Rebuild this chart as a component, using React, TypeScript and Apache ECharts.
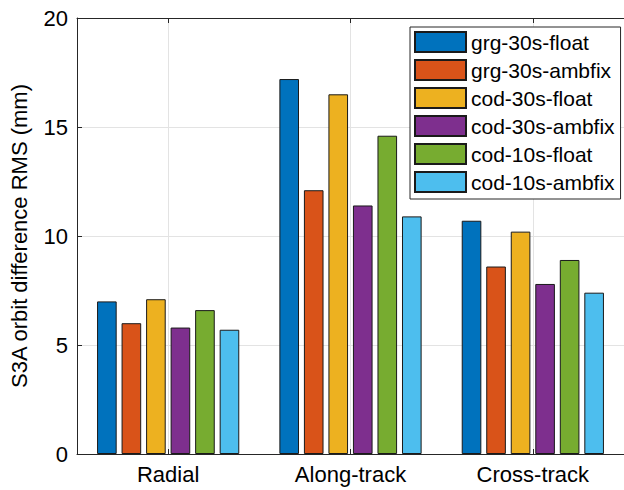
import React, { useEffect, useRef } from 'react';
import * as echarts from 'echarts';

const categories = ['Radial', 'Along-track', 'Cross-track'];
const seriesNames = [
  'grg-30s-float',
  'grg-30s-ambfix',
  'cod-30s-float',
  'cod-30s-ambfix',
  'cod-10s-float',
  'cod-10s-ambfix',
];
const grg30sFloat = [7.0, 17.2, 10.7];
const grg30sAmbfix = [6.0, 12.1, 8.6];
const cod30sFloat = [7.1, 16.5, 10.2];
const cod30sAmbfix = [5.8, 11.4, 7.8];
const cod10sFloat = [6.6, 14.6, 8.9];
const cod10sAmbfix = [5.7, 10.9, 7.4];
const yMin = 0;
const yMax = 20;
const yStep = 5;
const yTitle = 'S3A orbit difference RMS (mm)';

const seriesValues = [grg30sFloat, grg30sAmbfix, cod30sFloat, cod30sAmbfix, cod10sFloat, cod10sAmbfix];
const colors = ['#0072BD', '#D95319', '#EDB120', '#7E2F8E', '#77AC30', '#4DBEEE'];

const FONT = '"Liberation Sans", Arial, Helvetica, sans-serif';
const AXIS = '#262626';
const GRID = '#e3e3e3';

export default function App() {
  const ref = useRef<HTMLDivElement>(null);
  useEffect(() => {
    if (!ref.current) return;
    const chart = echarts.init(ref.current, null, { renderer: 'svg' });
    const bars = seriesNames.map((name, i) => ({
      name,
      type: 'bar',
      data: seriesValues[i],
      xAxisIndex: 0,
      yAxisIndex: 0,
      barGap: '25%',
      barCategoryGap: '22%',
      z: 2,
      itemStyle: { color: colors[i], borderColor: '#1a1a1a', borderWidth: 1 },
    }));
    chart.setOption({
      animation: false,
      backgroundColor: '#ffffff',
      textStyle: { fontFamily: FONT },
      grid: { left: 77, top: 18, width: 553, height: 436, containLabel: false },
      legend: {
        orient: 'vertical',
        left: 410,
        top: 27,
        data: seriesNames,
        icon: 'rect',
        itemWidth: 51,
        itemHeight: 20,
        itemGap: 6,
        padding: [4, 6, 6, 4],
        borderColor: AXIS,
        borderWidth: 1,
        backgroundColor: '#ffffff',
        textStyle: { fontSize: 21, color: '#000', fontFamily: FONT },
      },
      xAxis: [
        {
          type: 'category',
          data: categories,
          position: 'bottom',
          axisLine: { show: true, lineStyle: { color: AXIS, width: 1 } },
          axisTick: { show: true, inside: true, alignWithLabel: true, length: 5, lineStyle: { color: AXIS } },
          axisLabel: { fontSize: 22, color: '#000', margin: 9, fontFamily: FONT },
          splitLine: { show: false },
        },
        {
          type: 'category',
          data: categories,
          position: 'top',
          axisLine: { show: true, lineStyle: { color: AXIS, width: 1 } },
          axisTick: { show: true, inside: true, alignWithLabel: true, length: 5, lineStyle: { color: AXIS } },
          axisLabel: { show: false },
          splitLine: { show: false },
        },
      ],
      yAxis: [
        {
          type: 'value',
          min: yMin,
          max: yMax,
          interval: yStep,
          name: yTitle,
          nameLocation: 'middle',
          nameRotate: 90,
          nameGap: 47,
          nameTextStyle: { fontSize: 22, color: '#000', fontFamily: FONT },
          axisLine: { show: true, lineStyle: { color: AXIS, width: 1 } },
          axisTick: { show: true, inside: true, length: 5, lineStyle: { color: AXIS } },
          axisLabel: { fontSize: 22, color: '#000', margin: 9, fontFamily: FONT },
          splitLine: { show: true, lineStyle: { color: GRID, width: 1 } },
        },
      ],
      series: [
        {
          name: '__vgrid',
          type: 'line',
          data: [],
          xAxisIndex: 0,
          yAxisIndex: 0,
          z: 0,
          silent: true,
          markLine: {
            silent: true,
            z: 0,
            symbol: 'none',
            label: { show: false },
            lineStyle: { color: GRID, width: 1, type: 'solid' },
            data: categories.map((c) => ({ xAxis: c })),
          },
        },
        ...bars,
      ],
    });
    return () => chart.dispose();
  }, []);
  return (
    <div
      ref={ref}
      style={{ position: 'absolute', left: 0, top: 0, width: 624, height: 490, background: '#fff' }}
    />
  );
}
